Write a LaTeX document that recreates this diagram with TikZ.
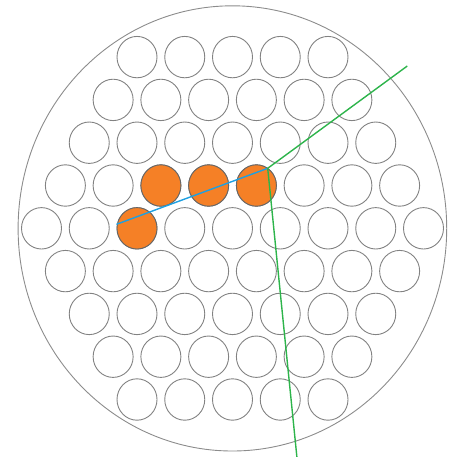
\documentclass[tikz,border=0pt]{standalone}
\usetikzlibrary{shapes.geometric}
\definecolor{ringgray}{RGB}{140,140,140}
\definecolor{hole}{RGB}{130,130,130}
\definecolor{fillorange}{RGB}{245,128,38}
\definecolor{lineblue}{RGB}{30,160,225}
\definecolor{linegreen}{RGB}{45,180,75}
\tikzset{
  tube/.style={ellipse, draw=hole, line width=0.9pt, minimum width=40pt, minimum height=41.4pt, inner sep=0pt},
  hot/.style={tube, fill=fillorange, draw=black!60},
  outer/.style={ellipse, draw=ringgray, line width=0.9pt, minimum width=428.6pt, minimum height=445.2pt, inner sep=0pt},
  blueline/.style={draw=lineblue, line width=1.4pt},
  greenline/.style={draw=linegreen, line width=1.4pt}
}
\begin{document}
\begin{tikzpicture}[x=1pt,y=-1pt]
\useasboundingbox (0,0) rectangle (457,456);
\clip (0,0) rectangle (457,456);
\node[outer] (shell) at (232.4,228.4) {};
\foreach \r in {-4,...,4}{
  \pgfmathtruncatemacro{\n}{9-abs(\r)}
  \pgfmathtruncatemacro{\last}{\n-1}
  \foreach \k in {0,...,\last}{
    \pgfmathsetmacro{\xx}{232.5+(\k-(\n-1)/2)*47.75}
    \pgfmathsetmacro{\yy}{228.3+\r*42.8}
    \node[tube] (c\r\k) at (\xx,\yy) {};
  }
}
\node[hot] (h1) at (160.9,185.5) {};
\node[hot] (h2) at (208.6,185.5) {};
\node[hot] (h3) at (256.4,185.5) {};
\node[hot] (h4) at (137.0,228.3) {};
\coordinate (P) at (267.7,168.3);
\coordinate (A) at (116.5,224.3);
\coordinate (B) at (407.3,66);
\coordinate (C) at (297.8,466);
\draw[blueline] (A) -- (P);
\draw[greenline] (B) -- (P) -- (C);
\end{tikzpicture}
\end{document}
